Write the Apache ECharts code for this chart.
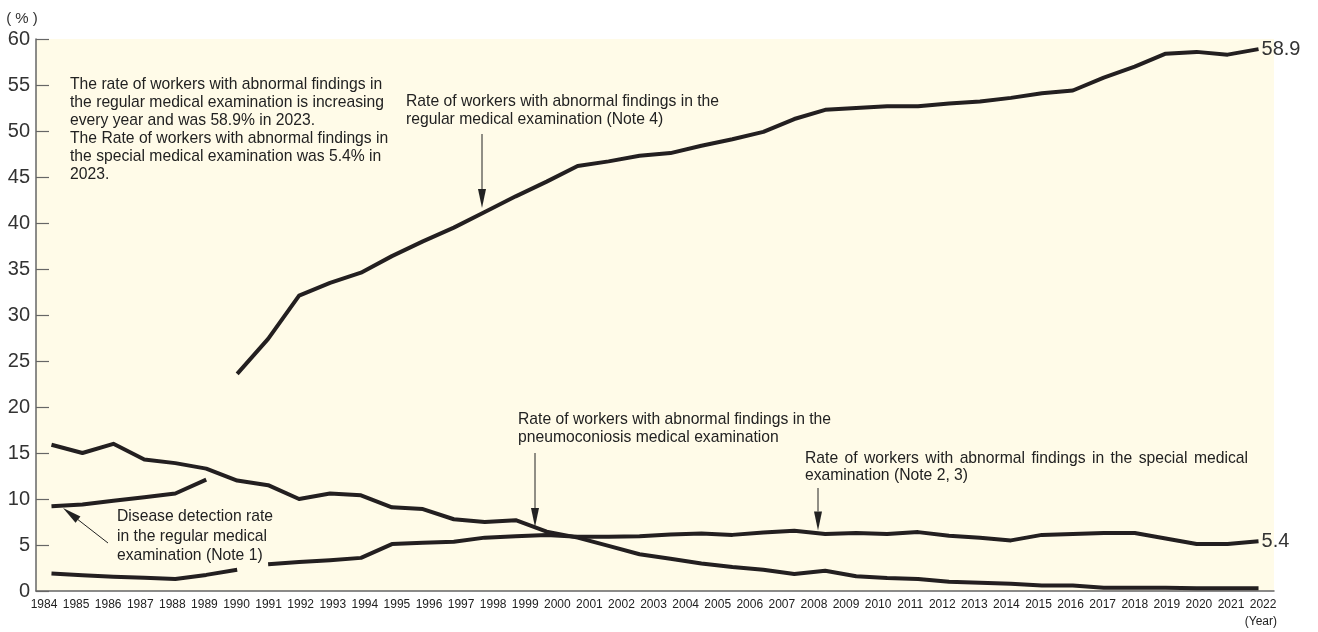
<!DOCTYPE html>
<html>
<head>
<meta charset="utf-8">
<script src="https://cdn.jsdelivr.net/npm/echarts@6/dist/echarts.min.js"></script>
<style>
html, body { margin: 0; padding: 0; background: #fff; }
#main { width: 1318px; height: 632px; }
</style>
</head>
<body>
<div id="main"></div>
<script>
(() => {
    // data points (one per year, 1984-2023)
    const years = [1984, 1985, 1986, 1987, 1988, 1989, 1990, 1991, 1992, 1993,
        1994, 1995, 1996, 1997, 1998, 1999, 2000, 2001, 2002, 2003,
        2004, 2005, 2006, 2007, 2008, 2009, 2010, 2011, 2012, 2013,
        2014, 2015, 2016, 2017, 2018, 2019, 2020, 2021, 2022, 2023];
    // labels printed under the axis (1984-2022)
    const tickYears = [1984, 1985, 1986, 1987, 1988, 1989, 1990, 1991, 1992, 1993,
        1994, 1995, 1996, 1997, 1998, 1999, 2000, 2001, 2002, 2003,
        2004, 2005, 2006, 2007, 2008, 2009, 2010, 2011, 2012, 2013,
        2014, 2015, 2016, 2017, 2018, 2019, 2020, 2021, 2022];

    // Disease detection rate in the regular medical examination, 1984-1989
    const diseaseRate = [9.2, 9.4, 9.8, 10.2, 10.6, 12.1];
    // Regular medical examination, abnormal findings, 1990-2023
    const regularRate = [23.6, 27.4, 32.1, 33.5, 34.6, 36.4, 38.0, 39.5, 41.2, 42.9,
        44.5, 46.2, 46.7, 47.3, 47.6, 48.4, 49.1, 49.9, 51.3, 52.3,
        52.5, 52.7, 52.7, 53.0, 53.2, 53.6, 54.1, 54.4, 55.8, 57.0,
        58.4, 58.6, 58.3, 58.9];
    // Pneumoconiosis medical examination, 1984-2023
    const pneumoRate = [15.9, 15.0, 16.0, 14.3, 13.9, 13.3, 12.0, 11.5, 10.0, 10.6,
        10.4, 9.1, 8.9, 7.8, 7.5, 7.7, 6.45, 5.8, 4.9, 4.0,
        3.5, 3.0, 2.6, 2.3, 1.85, 2.2, 1.6, 1.4, 1.3, 1.0,
        0.9, 0.8, 0.6, 0.6, 0.35, 0.35, 0.35, 0.3, 0.3, 0.3];
    // Special medical examination, 1984-1990 and 1991-2023 (break between)
    const specialRateA = [1.9, 1.7, 1.55, 1.45, 1.3, 1.75, 2.3];
    const specialRateB = [2.9, 3.15, 3.35, 3.6, 5.1, 5.25, 5.35, 5.8, 5.95, 6.1,
        5.9, 5.9, 5.95, 6.15, 6.25, 6.1, 6.35, 6.55, 6.2, 6.3,
        6.2, 6.4, 6.0, 5.8, 5.5, 6.1, 6.2, 6.3, 6.3, 5.7,
        5.1, 5.1, 5.4];

    const FONT = 'Liberation Sans, Arial, Helvetica, sans-serif';
    const NOTE_SIZE = 15.7;
    const INK = '#231f20';
    const TXT = '#222';

    const pad = (n) => Array(n).fill(null);

    const lineSeries = (name, data, endLabel) => ({
        name: name,
        type: 'line',
        xAxisIndex: 0,
        data: data,
        showSymbol: false,
        symbol: 'none',
        lineStyle: { color: INK, width: 4, join: 'round' },
        itemStyle: { color: INK },
        connectNulls: false,
        silent: true,
        endLabel: endLabel ? {
            show: true,
            formatter: (p) => String(p.value),
            distance: 3,
            fontSize: 20,
            fontFamily: FONT,
            color: '#333'
        } : { show: false }
    });

    const arrow = (x1, y1, x2, y2) => {
        const dx = x2 - x1, dy = y2 - y1;
        const len = Math.hypot(dx, dy);
        const ux = dx / len, uy = dy / len;
        const hl = 19, hw = 4;
        const bx = x2 - ux * hl, by = y2 - uy * hl;
        return [
            { type: 'line', silent: true, shape: { x1: x1, y1: y1, x2: bx, y2: by }, style: { stroke: TXT, lineWidth: 1 } },
            { type: 'polygon', silent: true, shape: { points: [[x2, y2], [bx - uy * hw, by + ux * hw], [bx + uy * hw, by - ux * hw]] }, style: { fill: TXT } }
        ];
    };

    const note = (x, y, text, lh) => ({
        type: 'text', silent: true, x: x, y: y,
        style: { text: text, fontSize: NOTE_SIZE, fontFamily: FONT, fill: TXT, lineHeight: lh, verticalAlign: 'top' }
    });

    // one justified line: words spread out to fill the given width
    const justified = (x, y, text, width, lh) => {
        const ctx = document.createElement('canvas').getContext('2d');
        ctx.font = NOTE_SIZE + 'px ' + FONT;
        const words = text.split(' ');
        const widths = words.map((w) => ctx.measureText(w).width);
        const gap = (width - widths.reduce((a, b) => a + b, 0)) / (words.length - 1);
        let cx = x;
        return words.map((w, i) => {
            const el = note(cx, y, w, lh);
            cx += widths[i] + gap;
            return el;
        });
    };

    let chart = echarts.init(document.getElementById('main'));
    let option = {
        animation: false,
        backgroundColor: '#fff',
        grid: {
            left: 36, right: 44, top: 39, bottom: 41,
            show: true, backgroundColor: '#fffbe8', borderWidth: 0
        },
        xAxis: [
            {
                type: 'category',
                data: years,
                boundaryGap: true,
                axisLine: { lineStyle: { color: '#666', width: 1.5 } },
                axisTick: { show: false },
                axisLabel: { show: false },
                splitLine: { show: false }
            },
            {
                type: 'value',
                position: 'bottom',
                min: 1983.7506,
                max: 2022.34,
                axisLine: { show: false },
                axisTick: { show: false },
                splitLine: { show: false },
                axisLabel: {
                    customValues: tickYears,
                    formatter: (v) => String(v),
                    fontSize: 12,
                    fontFamily: FONT,
                    color: TXT,
                    margin: 8
                }
            }
        ],
        yAxis: {
            type: 'value',
            min: 0, max: 60, interval: 5,
            axisLine: { show: true, lineStyle: { color: '#666', width: 1.5 } },
            axisTick: { show: true, inside: true, length: 13, lineStyle: { color: '#666', width: 1.2 } },
            axisLabel: { fontSize: 20, fontFamily: FONT, color: '#333', margin: 6 },
            splitLine: { show: false }
        },
        series: [
            lineSeries('Disease detection rate in the regular medical examination (Note 1)', diseaseRate, false),
            lineSeries('Rate of workers with abnormal findings in the regular medical examination (Note 4)', pad(6).concat(regularRate), true),
            lineSeries('Rate of workers with abnormal findings in the pneumoconiosis medical examination', pneumoRate, false),
            lineSeries('Rate of workers with abnormal findings in the special medical examination (Note 2, 3)', specialRateA, false),
            lineSeries('Rate of workers with abnormal findings in the special medical examination (Note 2, 3) ', pad(7).concat(specialRateB), true)
        ],
        graphic: [
            { type: 'text', silent: true, x: 22, y: 19, style: { text: '( % )', fontSize: 15, fontFamily: FONT, fill: '#333', align: 'center', verticalAlign: 'middle' } },
            { type: 'text', silent: true, x: 1277, y: 622, style: { text: '(Year)', fontSize: 12, fontFamily: FONT, fill: TXT, align: 'right', verticalAlign: 'middle' } },
            note(70, 75.5, 'The rate of workers with abnormal findings in\nthe regular medical examination is increasing\nevery year and was 58.9% in 2023.\nThe Rate of workers with abnormal findings in\nthe special medical examination was 5.4% in\n2023.', 18),
            note(406, 93, 'Rate of workers with abnormal findings in the\nregular medical examination (Note 4)', 17.5),
            note(518, 411, 'Rate of workers with abnormal findings in the\npneumoconiosis medical examination', 18),
            note(805, 467, 'examination (Note 2, 3)', 17.5),
            note(117, 507.5, 'Disease detection rate\nin the regular medical\nexamination (Note 1)', 19.3)
        ].concat(
            justified(805, 449.5, 'Rate of workers with abnormal findings in the special medical', 443, 17.5),
            arrow(482, 134, 482, 208),
            arrow(535, 453, 535, 527),
            arrow(818, 488, 818, 530.5),
            arrow(108, 543, 63, 508)
        )
    };
    chart.setOption(option);
})();
</script>
</body>
</html>
